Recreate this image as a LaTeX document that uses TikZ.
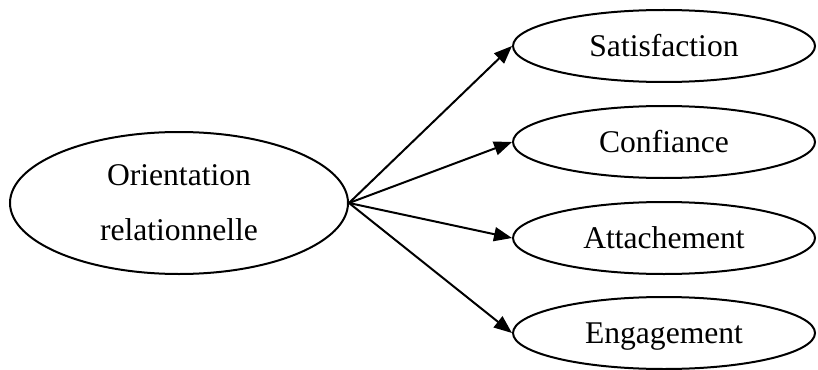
\documentclass[tikz,border=0pt]{standalone}
\usepackage{fontspec}
\setmainfont{Liberation Serif}
\usepackage{tikz}
\usetikzlibrary{shapes.geometric,arrows.meta}

\begin{document}
\begin{tikzpicture}[x=0.5pt, y=-0.5pt,
        every node/.style={font=\fontsize{15.8}{27.5}\selectfont}]
        \tikzstyle{ovalStyle} = [ellipse,draw=black,line width=1pt,inner sep=0pt]
        \tikzstyle{smallOval} = [ovalStyle,minimum width=151pt,minimum height=36pt,
                                 text height=11pt,text depth=0.6pt]
        \tikzstyle{arrowEdge} = [draw=black, line width=1pt,
                                 -{Triangle[length=9pt,width=7pt]}]
        \useasboundingbox (0,0) rectangle (818,369);
        \node[ovalStyle,minimum width=169pt,minimum height=71pt,align=center]
            (orient) at (179,203) {Orientation\\relationnelle};
        \node[smallOval] (satis) at (664,46) {Satisfaction};
        \node[smallOval] (conf) at (664,142) {Confiance};
        \node[smallOval] (attach) at (664,238) {Attachement};
        \node[smallOval] (engag) at (664,333) {Engagement};
        \foreach \to in {satis,conf,attach,engag}
            \draw[arrowEdge] (orient.east) -- (\to.west);
    \end{tikzpicture}
\end{document}
